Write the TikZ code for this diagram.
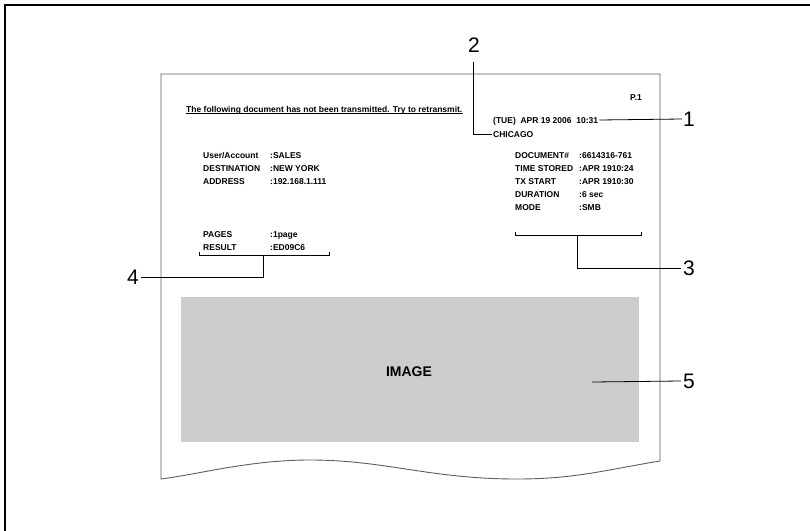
\documentclass[tikz,border=0pt]{standalone}
\usepackage{fontspec}
\setmainfont{Liberation Sans}
\usetikzlibrary{positioning}
\definecolor{PaperEdge}{HTML}{5E5E5E}
\definecolor{ImageGray}{HTML}{CCCCCC}

\tikzset{
  field/.style={anchor=west, inner sep=0pt, text height=6.1pt, text depth=0pt, font=\bfseries\fontsize{8.5}{9.5}\selectfont},
  callout/.style={inner sep=0pt, font=\fontsize{21}{24}\selectfont},
  leader/.style={line width=0.8pt, black},
}

\begin{document}
\begin{tikzpicture}[x=1pt, y=-1pt]
  \useasboundingbox (0,0) rectangle (810,530);
  \clip (0,0) rectangle (810,530);
  % outer frame
  \draw[line width=2.4pt] (5,545) -- (5,5) -- (825,5);

  % paper sheet with torn bottom
  \draw[PaperEdge, line width=0.9pt, fill=white] (161,479) -- (161,74) -- (660,74) -- (660,461)
    .. controls (605,470) and (575,479) .. (517,479)
    .. controls (430,479) and (385,460) .. (310,460)
    .. controls (250,460) and (200,474) .. (161,479) -- cycle;

  \node[field] at (630,97) {P.1};
  \node[field, inner ysep=1pt] (hdr) at (186,109) {The following document has not been transmitted. Try to retransmit.};
  \draw[line width=0.7pt] (hdr.south west) -- (hdr.south east);

  \node[field] (date) at (493,120) {(TUE)\ \ APR 19 2006\ \ 10:31};
  \node[field] (city) at (493,134) {CHICAGO};

  % left fields
  \node[field] (user) at (203,155) {User/Account};
  \node[field] (dest) at (203,168) {DESTINATION};
  \node[field] (addr) at (203,181) {ADDRESS};
  \node[field] (pages) at (203,234) {PAGES};
  \node[field] (result) at (203,247) {RESULT};
  \node[field] (userv) at (270,155) {:SALES};
  \node[field] (destv) at (270,168) {:NEW YORK};
  \node[field] (addrv) at (270,181) {:192.168.1.111};
  \node[field] (pagesv) at (270,234) {:1page};
  \node[field] (resultv) at (270,247) {:ED09C6};

  % right fields
  \node[field] (doc) at (515,155) {DOCUMENT\#};
  \node[field] (stored) at (515,168) {TIME STORED};
  \node[field] (txstart) at (515,181) {TX START};
  \node[field] (dur) at (515,194) {DURATION};
  \node[field] (mode) at (515,207) {MODE};
  \node[field] (docv) at (579,155) {:6614316-761};
  \node[field] (storedv) at (579,168) {:APR 1910:24};
  \node[field] (txstartv) at (579,181) {:APR 1910:30};
  \node[field] (durv) at (579,194) {:6 sec};
  \node[field] (modev) at (579,207) {:SMB};

  % image area
  \fill[ImageGray] (181,297) rectangle (639,442);
  \node[inner sep=0pt, font=\bfseries\fontsize{14}{16}\selectfont] (img) at (409,372) {IMAGE};

  % callout numbers
  \node[callout, anchor=west] (n1) at (683,119) {1};
  \node[callout] (n2) at (474,45) {2};
  \node[callout, anchor=west] (n3) at (683,268) {3};
  \node[callout, anchor=east] (n4) at (139,277) {4};
  \node[callout, anchor=west] (n5) at (683,381) {5};

  % leaders
  \draw[leader] ([xshift=1pt]date.east) -- ([xshift=-1pt]n1.west);
  \coordinate (c2) at (473,62);
  \draw[leader] (c2) |- ([xshift=-1pt]city.west);

  \coordinate (b3l) at (515,235);
  \coordinate (b3r) at (641,235);
  \coordinate (b3m) at (577,235);
  \draw[leader] ([yshift=3pt]b3l) -- (b3l) -- (b3r) -- ([yshift=3pt]b3r);
  \draw[leader] (b3m) |- ([xshift=-2pt]n3.west);

  \coordinate (b4l) at (199,255);
  \coordinate (b4r) at (329,255);
  \coordinate (b4m) at (263,255);
  \draw[leader] ([yshift=3pt]b4l) -- (b4l) -- (b4r) -- ([yshift=3pt]b4r);
  \draw[leader] (b4m) |- ([xshift=2pt]n4.east);

  \coordinate (c5) at (592,382);
  \draw[leader] (c5) -- ([xshift=-2pt]n5.west);
\end{tikzpicture}
\end{document}
